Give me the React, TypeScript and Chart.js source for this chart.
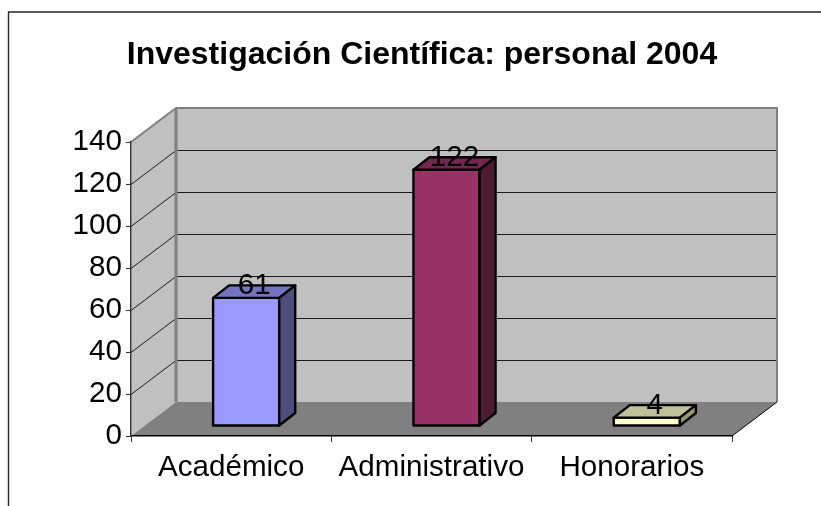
import React, { useEffect, useRef } from "react";
import { Chart, registerables } from "chart.js";

Chart.register(...registerables);

const categories = ["Académico", "Administrativo", "Honorarios"];
const personal = [61, 122, 4];
const yTickStep = 20;
const yMax = 140;
const chartTitle = "Investigación Científica: personal 2004";

const frontColors = ["#9999FF", "#993366", "#FFFFCC"];
const topColors = ["#7373BF", "#732650", "#BFBF99"];
const sideColors = ["#4D4D80", "#4D1A33", "#9C9C72"];

const FONT = '"Liberation Sans", Arial, sans-serif';
const WALL_DX = 45;
const WALL_DY = 34;
const BAR_SHIFT_X = 15;
const BAR_SHIFT_Y = 10;
const BAR_DX = 16;
const BAR_DY = 12.5;
const TITLE_CENTER = 422;

const scene3d = {
  id: "scene3d",
  afterLayout(chart: any) {
    const block = chart.titleBlock;
    if (block) block.left = 2 * TITLE_CENTER - block.right;
  },
  beforeDraw(chart: any) {
    const { ctx, chartArea: a, scales } = chart;
    const y = scales.y;
    ctx.save();
    // outer frame
    ctx.strokeStyle = "#262626";
    ctx.lineWidth = 1.4;
    ctx.beginPath();
    ctx.moveTo(8.5, chart.height);
    ctx.lineTo(8.5, 12);
    ctx.lineTo(chart.width, 12);
    ctx.stroke();

    // back wall
    ctx.fillStyle = "#C0C0C0";
    ctx.fillRect(a.left + WALL_DX, a.top - WALL_DY, a.right - a.left, a.bottom - a.top);
    // side wall
    ctx.beginPath();
    ctx.moveTo(a.left, a.top);
    ctx.lineTo(a.left + WALL_DX, a.top - WALL_DY);
    ctx.lineTo(a.left + WALL_DX, a.bottom - WALL_DY);
    ctx.lineTo(a.left, a.bottom);
    ctx.closePath();
    ctx.fill();
    // floor
    ctx.fillStyle = "#808080";
    ctx.beginPath();
    ctx.moveTo(a.left, a.bottom);
    ctx.lineTo(a.left + WALL_DX, a.bottom - WALL_DY);
    ctx.lineTo(a.right + WALL_DX, a.bottom - WALL_DY);
    ctx.lineTo(a.right, a.bottom);
    ctx.closePath();
    ctx.fill();

    // grid lines on both walls
    ctx.strokeStyle = "#1a1a1a";
    ctx.lineWidth = 1;
    y.ticks.forEach((t: any) => {
      if (t.value === 0 || t.value === yMax) return;
      const py = Math.round(y.getPixelForValue(t.value)) + 0.5;
      ctx.beginPath();
      ctx.moveTo(a.left, py);
      ctx.lineTo(a.left + WALL_DX, py - WALL_DY);
      ctx.lineTo(a.right + WALL_DX, py - WALL_DY);
      ctx.stroke();
    });

    // wall outlines
    ctx.strokeStyle = "#808080";
    ctx.lineWidth = 2;
    ctx.beginPath();
    ctx.moveTo(a.left, a.top);
    ctx.lineTo(a.left + WALL_DX, a.top - WALL_DY);
    ctx.lineTo(a.right + WALL_DX, a.top - WALL_DY);
    ctx.lineTo(a.right + WALL_DX, a.bottom - WALL_DY);
    ctx.stroke();
    ctx.lineWidth = 3;
    ctx.beginPath();
    ctx.moveTo(a.left + WALL_DX, a.top - WALL_DY);
    ctx.lineTo(a.left + WALL_DX, a.bottom - WALL_DY);
    ctx.stroke();
    // floor right edge
    ctx.strokeStyle = "#000000";
    ctx.lineWidth = 1;
    ctx.beginPath();
    ctx.moveTo(a.right, a.bottom);
    ctx.lineTo(a.right + WALL_DX, a.bottom - WALL_DY);
    ctx.stroke();
    ctx.restore();
  },
  beforeDatasetDraw(chart: any) {
    const { ctx } = chart;
    ctx.save();
    ctx.translate(BAR_SHIFT_X, -BAR_SHIFT_Y);
  },
  afterDatasetDraw(chart: any, args: any) {
    const { ctx } = chart;
    const meta = args.meta;
    ctx.lineWidth = 2.4;
    ctx.strokeStyle = "#000000";
    ctx.lineJoin = "round";
    meta.data.forEach((bar: any, i: number) => {
      const l = bar.x - bar.width / 2;
      const r = bar.x + bar.width / 2;
      const t = bar.y;
      const b = bar.base;
      // front outline
      ctx.strokeRect(l, t, r - l, b - t);
      // top face
      ctx.fillStyle = topColors[i];
      ctx.beginPath();
      ctx.moveTo(l, t);
      ctx.lineTo(l + BAR_DX, t - BAR_DY);
      ctx.lineTo(r + BAR_DX, t - BAR_DY);
      ctx.lineTo(r, t);
      ctx.closePath();
      ctx.fill();
      ctx.stroke();
      // side face
      ctx.fillStyle = sideColors[i];
      ctx.beginPath();
      ctx.moveTo(r, t);
      ctx.lineTo(r + BAR_DX, t - BAR_DY);
      ctx.lineTo(r + BAR_DX, b - BAR_DY);
      ctx.lineTo(r, b);
      ctx.closePath();
      ctx.fill();
      ctx.stroke();
    });
    // value labels
    ctx.fillStyle = "#000000";
    ctx.font = `29.6px ${FONT}`;
    ctx.textAlign = "center";
    ctx.textBaseline = "middle";
    meta.data.forEach((bar: any, i: number) => {
      ctx.fillText(String(personal[i]), bar.x + 8, bar.y - 12);
    });
    ctx.restore();
  },
};

export default function App() {
  const ref = useRef<HTMLCanvasElement | null>(null);
  useEffect(() => {
    if (!ref.current) return;
    const chart = new Chart(ref.current, {
      type: "bar",
      data: {
        labels: categories,
        datasets: [
          {
            data: personal,
            backgroundColor: frontColors,
            borderWidth: 0,
            barPercentage: 0.33,
            categoryPercentage: 1,
            clip: false,
          } as any,
        ],
      },
      options: {
        responsive: false,
        animation: false,
        layout: { padding: { left: 61, right: 89, top: 0, bottom: 0 } },
        plugins: {
          legend: { display: false },
          tooltip: { enabled: false },
          title: {
            display: true,
            text: chartTitle,
            color: "#000000",
            font: { family: FONT, size: 32, weight: "bold", lineHeight: 1.2 },
            padding: { top: 36, bottom: 67.6 },
          },
        },
        scales: {
          x: {
            afterFit(s: any) {
              s.height = 70;
            },
            grid: { drawOnChartArea: false, tickLength: 6, color: "#333333", lineWidth: 1 },
            border: { color: "#000000", width: 1.4 },
            ticks: { color: "#000000", font: { family: FONT, size: 29.6 }, padding: 8, maxRotation: 0, autoSkip: false },
          },
          y: {
            min: 0,
            max: yMax,
            afterFit(s: any) {
              s.width = 70;
            },
            grid: { drawOnChartArea: false, tickLength: 5, color: "#333333", lineWidth: 1 },
            border: { color: "#333333", width: 1.4 },
            ticks: { stepSize: yTickStep, color: "#000000", font: { family: FONT, size: 29.6 }, padding: 4 },
          },
        },
      },
      plugins: [scene3d],
    } as any);
    return () => chart.destroy();
  }, []);
  return (
    <canvas
      ref={ref}
      width={821}
      height={506}
      style={{ position: "fixed", left: 0, top: 0, display: "block", width: 821, height: 506 }}
    />
  );
}
